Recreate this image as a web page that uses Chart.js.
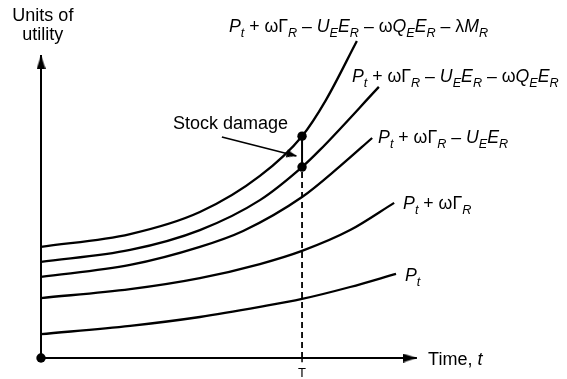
<!DOCTYPE html>
<html><head><meta charset="utf-8">
<script src="https://cdn.jsdelivr.net/npm/chart.js@4"></script>
<style>html,body{margin:0;padding:0;background:#fff}#wrap{width:567px;height:379px;position:relative}</style>
</head><body><div id="wrap"><canvas id="c" width="567" height="379"></canvas></div>
<script>
// ---- data (time t, units of utility) ----
const timeP     = [0, 2.39, 4.26, 5.87, 7.0, 8.29, 9.52];
const utilP     = [7.8, 10.5, 13.4, 16.7, 19.3, 23.2, 27.5];
const timePG    = [0, 2.39, 4.26, 5.87, 7.0, 8.29, 9.47];
const utilPG    = [19.6, 22.5, 26.1, 30.7, 35.0, 41.8, 50.7];
const timePGU   = [0, 2.39, 4.26, 5.42, 7.0, 8.02, 8.88];
const utilPGU   = [26.5, 30.4, 36.3, 41.5, 52.6, 62.7, 71.9];
const timePGUQ  = [0, 2.39, 4.26, 5.87, 7.0, 7.48, 9.06];
const utilPGUQ  = [31.4, 35.3, 41.8, 51.6, 62.4, 68.0, 88.6];
const timeAll   = [0, 2.39, 4.26, 5.87, 7.0, 7.64, 8.47];
const utilAll   = [36.3, 40.5, 47.7, 59.5, 72.5, 84.3, 103.6];
const T = 7.0;
const damageHigh = 72.5, damageLow = 62.4;
const axisX = [0, 10.08];   // time axis extent
const axisY = [0, 99.0];    // utility axis extent
const arrowFrom = [4.85, 72.2], arrowTo = [6.85, 66.0];
const tickLabels = ['T'];

// ---- label texts: [text, style] style: '' upright, 'i' italic, 's' italic subscript ----
const lblAll  = [['P','i'],['t','s'],[' + ωΓ',''],['R','s'],[' – ',''],['U','i'],['E','s'],['E','i'],['R','s'],[' – ω',''],['Q','i'],['E','s'],['E','i'],['R','s'],[' – λ',''],['M','i'],['R','s']];
const lblPGUQ = [['P','i'],['t','s'],[' + ωΓ',''],['R','s'],[' – ',''],['U','i'],['E','s'],['E','i'],['R','s'],[' – ω',''],['Q','i'],['E','s'],['E','i'],['R','s']];
const lblPGU  = [['P','i'],['t','s'],[' + ωΓ',''],['R','s'],[' – ',''],['U','i'],['E','s'],['E','i'],['R','s']];
const lblPG   = [['P','i'],['t','s'],[' + ωΓ',''],['R','s']];
const lblP    = [['P','i'],['t','s']];
const labelPos = [[5.04,106.5],[8.34,90.2],[9.04,70.3],[9.71,48.7],[9.76,25.2]];
const labels = [lblAll, lblPGUQ, lblPGU, lblPG, lblP];

const FONT = '"Liberation Sans", Arial, sans-serif';
const pts = (xs, ys) => xs.map((x, i) => ({x, y: ys[i]}));

function arrowCanvas(w, len) {
  const c = document.createElement('canvas');
  c.width = w; c.height = len * 2;
  const g = c.getContext('2d');
  g.fillStyle = '#000';
  g.beginPath();
  g.moveTo(w / 2, len);
  g.lineTo(w, len * 2);
  g.lineTo(0, len * 2);
  g.closePath();
  g.fill();
  return c;
}
const bigHead = arrowCanvas(9, 14);
const smallHead = arrowCanvas(8, 10);

const curve = (xs, ys) => ({
  data: pts(xs, ys), borderColor: '#000', borderWidth: 2.3, pointRadius: 0,
  cubicInterpolationMode: 'monotone', fill: false
});

const datasets = [
  { type: 'scatter', data: [{x: T, y: damageHigh}, {x: T, y: damageLow}, {x: 0, y: 0}],
    pointRadius: 4.7, backgroundColor: '#000', borderWidth: 0, showLine: false },
  curve(timeAll, utilAll),
  curve(timePGUQ, utilPGUQ),
  curve(timePGU, utilPGU),
  curve(timePG, utilPG),
  curve(timeP, utilP),
  { data: [{x: T, y: damageLow}, {x: T, y: damageHigh}], borderColor: '#000', borderWidth: 2, pointRadius: 0 },
  { data: [{x: T, y: 0}, {x: T, y: damageLow}], borderColor: '#000', borderWidth: 1.8, borderDash: [6, 4], pointRadius: 0 },
  { data: [{x: axisX[0], y: 0}, {x: axisX[1], y: 0}], borderColor: '#000', borderWidth: 2, tension: 0,
    pointRadius: [0, 5], pointStyle: ctx => ctx.dataIndex === 1 ? bigHead : 'circle', pointRotation: 90 },
  { data: [{x: 0, y: axisY[0]}, {x: 0, y: axisY[1]}], borderColor: '#000', borderWidth: 2, tension: 0,
    pointRadius: [0, 5], pointStyle: ctx => ctx.dataIndex === 1 ? bigHead : 'circle', pointRotation: 0 },
  { data: [{x: arrowFrom[0], y: arrowFrom[1]}, {x: arrowTo[0], y: arrowTo[1]}], borderColor: '#000', borderWidth: 1.6,
    pointRadius: [0, 5], pointStyle: ctx => ctx.dataIndex === 1 ? smallHead : 'circle', pointRotation: 105 },
  { data: [{x: T, y: 0}, {x: T, y: -1.4}], borderColor: '#000', borderWidth: 1.5, pointRadius: 0 }
];

function drawRich(ctx, x, y, segs, size) {
  let cx = x;
  for (const [s, st] of segs) {
    const sub = st === 's';
    const fs = sub ? size * 0.72 : size;
    ctx.font = (st === 'i' || sub ? 'italic ' : '') + fs.toFixed(1) + 'px ' + FONT;
    ctx.fillText(s, cx, y + (sub ? size * 0.3 : 0));
    cx += ctx.measureText(s).width;
  }
}

const textPlugin = {
  id: 'texts',
  afterDatasetsDraw(chart) {
    const ctx = chart.ctx, xs = chart.scales.x, ys = chart.scales.y;
    const px = v => xs.getPixelForValue(v), py = v => ys.getPixelForValue(v);
    ctx.save();
    ctx.fillStyle = '#000';
    ctx.textBaseline = 'alphabetic';
    ctx.textAlign = 'left';
    labels.forEach((l, i) => drawRich(ctx, px(labelPos[i][0]), py(labelPos[i][1]), l, 17.7));
    drawRich(ctx, px(3.54), py(74.8), [['Stock damage', '']], 18);
    drawRich(ctx, px(10.38), py(-2.3), [['Time, ', ''], ['t', 'i']], 18);
    ctx.textAlign = 'center';
    ctx.font = '18px ' + FONT;
    ctx.fillText('Units of', px(0.05), py(110.1));
    ctx.fillText('utility', px(0.05), py(103.9));
    ctx.font = '13px ' + FONT;
    ctx.fillText(tickLabels[0], px(T), py(-6.2));
    ctx.restore();
  }
};

new Chart(document.getElementById('c'), {
  type: 'line',
  data: { datasets },
  options: {
    responsive: false, animation: false, devicePixelRatio: 1,
    layout: { padding: 0, autoPadding: false },
    plugins: { legend: { display: false }, tooltip: { enabled: false }, title: { display: false } },
    scales: {
      x: { type: 'linear', display: false, min: -1.0995, max: 14.105 },
      y: { type: 'linear', display: false, min: -6.863, max: 117.0 }
    }
  },
  plugins: [textPlugin]
});
</script></body></html>
